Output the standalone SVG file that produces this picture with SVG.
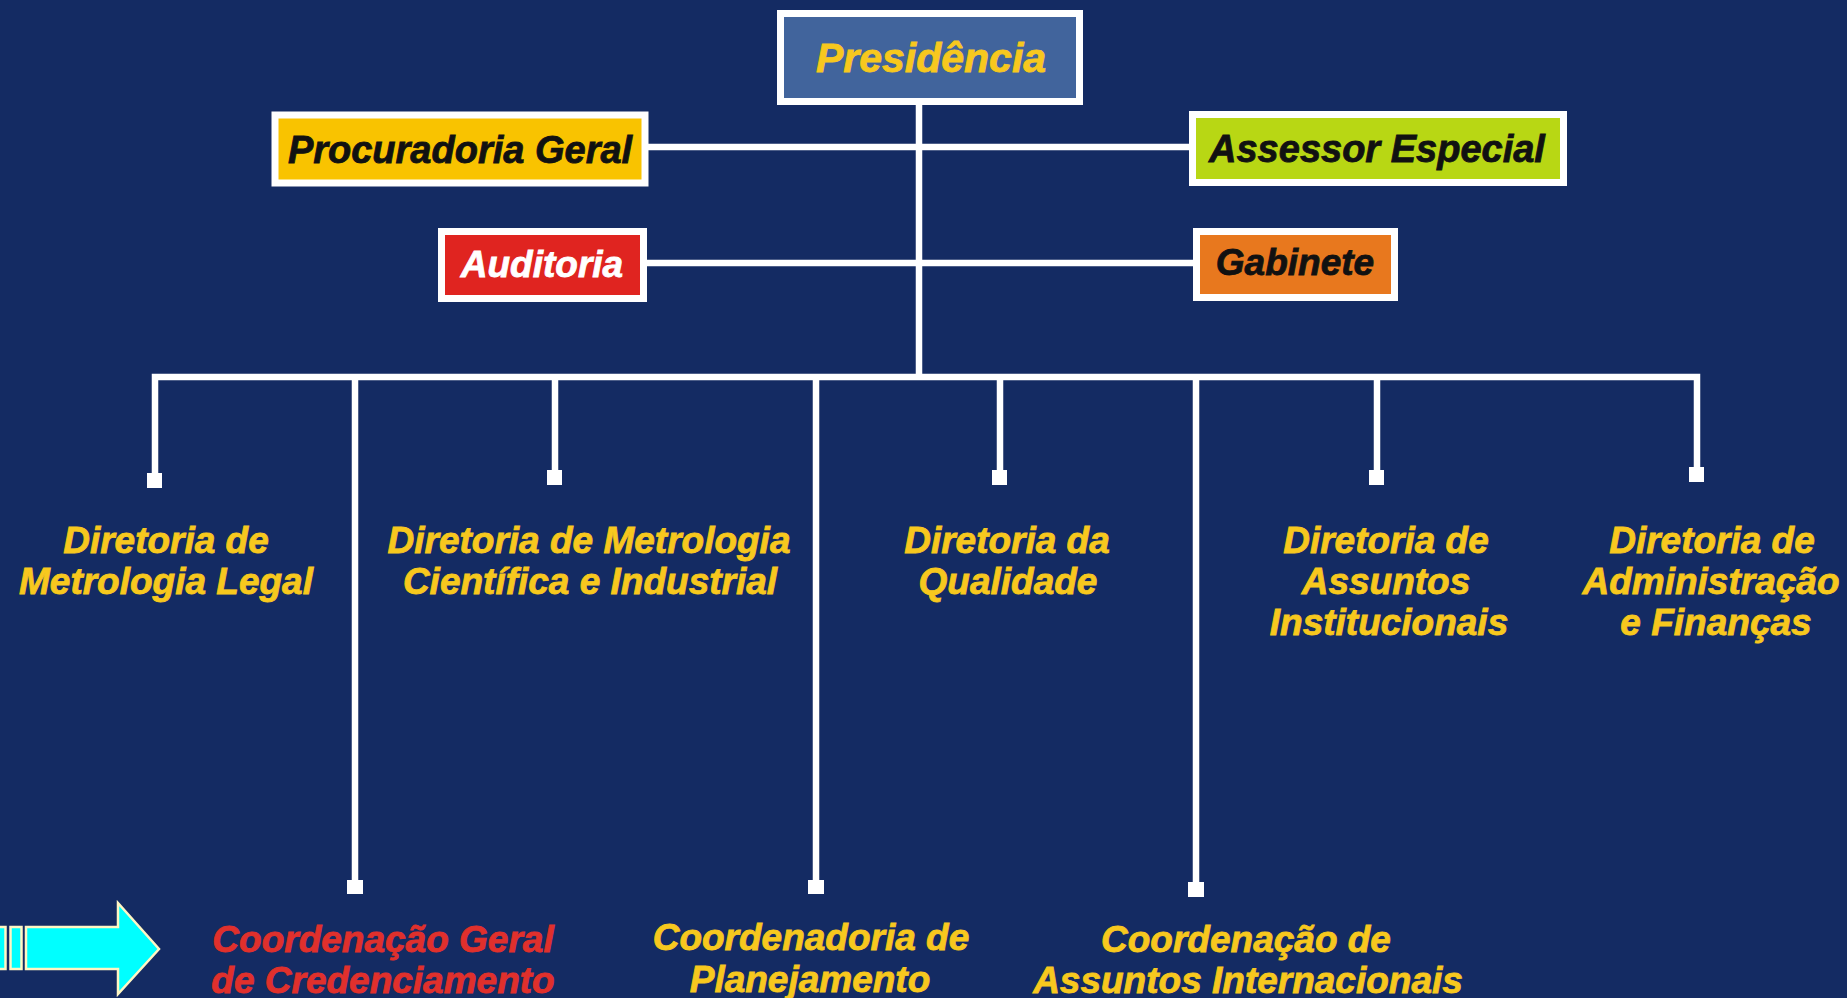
<svg xmlns="http://www.w3.org/2000/svg" width="1847" height="998" viewBox="0 0 1847 998">
<style>
.t{font-family:"Liberation Sans",Arial,sans-serif;font-weight:bold;font-style:italic;font-size:37px;text-anchor:middle;stroke-width:0.8}
.y{fill:#f7c81e;stroke:#f7c81e}
.k{fill:#111111;stroke:#111111}
.w{fill:#ffffff;stroke:#ffffff}
.r{fill:#e0302c;stroke:#e0302c}
.box{stroke:#ffffff;stroke-width:7}
.ln{stroke:#ffffff;stroke-width:6.5;fill:none}
.term{fill:#ffffff}
.arr{fill:#00ffff;stroke:#fff6c4;stroke-width:2.5}
</style>
<rect x="0" y="0" width="1847" height="998" fill="#142b63"/>

<g id="connectors">
  <line class="ln" x1="919" y1="105" x2="919" y2="380"/>
  <line class="ln" x1="648" y1="147" x2="1189" y2="147"/>
  <line class="ln" x1="646" y1="263" x2="1193" y2="263"/>
  <polyline class="ln" points="155,475 155,377 1697,377 1697,470"/>
  <line class="ln" x1="355" y1="377" x2="355" y2="882"/>
  <line class="ln" x1="555" y1="377" x2="555" y2="472"/>
  <line class="ln" x1="816" y1="377" x2="816" y2="882"/>
  <line class="ln" x1="1000" y1="377" x2="1000" y2="472"/>
  <line class="ln" x1="1196" y1="377" x2="1196" y2="884"/>
  <line class="ln" x1="1377" y1="377" x2="1377" y2="472"/>
  <rect class="term" x="147" y="473" width="15" height="15"/>
  <rect class="term" x="547" y="470" width="15" height="15"/>
  <rect class="term" x="992" y="470" width="15" height="15"/>
  <rect class="term" x="1369" y="470" width="15" height="15"/>
  <rect class="term" x="1689" y="467" width="15" height="15"/>
  <rect class="term" x="347" y="880" width="16" height="14"/>
  <rect class="term" x="808" y="880" width="16" height="14"/>
  <rect class="term" x="1188" y="882" width="16" height="15"/>
</g>

<g id="presidencia">
  <rect class="box" x="780.5" y="13.5" width="299" height="88" fill="#41649c"/>
  <text class="t y" x="931" y="72" style="font-size:41px">Presidência</text>
</g>
<g id="procuradoria">
  <rect class="box" x="275" y="115" width="370" height="68" fill="#f9c300"/>
  <text class="t k" x="460" y="163" style="font-size:38px">Procuradoria Geral</text>
</g>
<g id="assessor">
  <rect class="box" x="1192.5" y="114.5" width="371" height="68" fill="#b8d714"/>
  <text class="t k" x="1377" y="162" style="font-size:38px">Assessor Especial</text>
</g>
<g id="auditoria">
  <rect class="box" x="441.5" y="231.5" width="202" height="67" fill="#e02420"/>
  <text class="t w" x="542" y="277">Auditoria</text>
</g>
<g id="gabinete">
  <rect class="box" x="1196.5" y="231.5" width="198" height="66" fill="#e8781e"/>
  <text class="t k" x="1295" y="275">Gabinete</text>
</g>

<g id="dir-metrologia-legal">
  <text class="t y" x="166" y="553">Diretoria de</text>
  <text class="t y" x="166" y="594">Metrologia Legal</text>
</g>
<g id="dir-metrologia-cientifica">
  <text class="t y" x="589" y="553">Diretoria de Metrologia</text>
  <text class="t y" x="590" y="594">Científica e Industrial</text>
</g>
<g id="dir-qualidade">
  <text class="t y" x="1007" y="553">Diretoria da</text>
  <text class="t y" x="1008" y="594">Qualidade</text>
</g>
<g id="dir-assuntos-institucionais">
  <text class="t y" x="1386" y="553">Diretoria de</text>
  <text class="t y" x="1386" y="594">Assuntos</text>
  <text class="t y" x="1389" y="635">Institucionais</text>
</g>
<g id="dir-administracao">
  <text class="t y" x="1712" y="553">Diretoria de</text>
  <text class="t y" x="1711" y="594">Administração</text>
  <text class="t y" x="1716" y="635">e Finanças</text>
</g>

<g id="coord-credenciamento">
  <text class="t r" x="383" y="952">Coordenação Geral</text>
  <text class="t r" x="383" y="993">de Credenciamento</text>
</g>
<g id="coord-planejamento">
  <text class="t y" x="811" y="950">Coordenadoria de</text>
  <text class="t y" x="810" y="992">Planejamento</text>
</g>
<g id="coord-internacionais">
  <text class="t y" x="1246" y="952">Coordenação de</text>
  <text class="t y" x="1248" y="993">Assuntos Internacionais</text>
</g>

<g id="arrow">
  <rect class="arr" x="-5" y="927" width="10.5" height="42"/>
  <rect class="arr" x="10.5" y="927" width="11" height="42"/>
  <polygon class="arr" points="26,927 118,927 118,903 159,949 118,994 118,969 26,969"/>
</g>
</svg>
